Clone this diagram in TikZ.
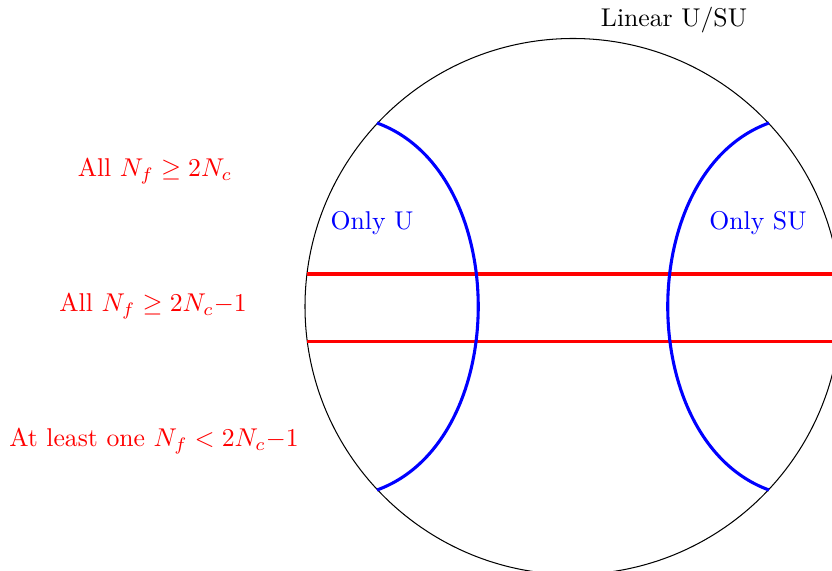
\documentclass[tikz,border=0pt]{standalone}
\begin{document}
\begin{tikzpicture}[x=0.389pt,y=-0.389pt,
  redlab/.style={text=red,inner sep=0pt},
  bluelab/.style={text=blue,inner sep=0pt},
  bluearc/.style={draw=blue,line width=1.2pt},
  redline/.style={draw=red,line width=1.2pt}]
\useasboundingbox (0,0) rectangle (832,571);
\clip (0,0) rectangle (832,571);
\coordinate (c) at (573,306.5);
\draw[line width=0.4pt] (c) circle[radius=268];
% red lines
\coordinate (r1a) at (307,274);
\coordinate (r1b) at (840,274);
\coordinate (r2a) at (307.5,341.5);
\coordinate (r2b) at (840,341.5);
\draw[redline] (r1a) -- (r1b);
\draw[redline] (r2a) -- (r2b);
% blue arcs
\coordinate (blt) at (377,123);
\coordinate (blb) at (377,490);
\coordinate (blc1) at (512,172);
\coordinate (blc2) at (512,441);
\coordinate (brt) at (769,123);
\coordinate (brb) at (769,490);
\coordinate (brc1) at (634,172);
\coordinate (brc2) at (634,441);
\draw[bluearc] (blt) .. controls (blc1) and (blc2) .. (blb);
\draw[bluearc] (brt) .. controls (brc1) and (brc2) .. (brb);
% labels
\node (lin) at (674,20) {Linear U/SU};
\node[redlab] (t1) at (155,171) {All $N_f\geq 2N_c$};
\node[redlab] (t2) at (153,306) {All $N_f\geq 2N_c{-}1$};
\node[redlab] (t3) at (154,441) {At least one $N_f<2N_c{-}1$};
\node[bluelab] (ou) at (372,223) {Only U};
\node[bluelab] (osu) at (758,223) {Only SU};
\end{tikzpicture}
\end{document}
